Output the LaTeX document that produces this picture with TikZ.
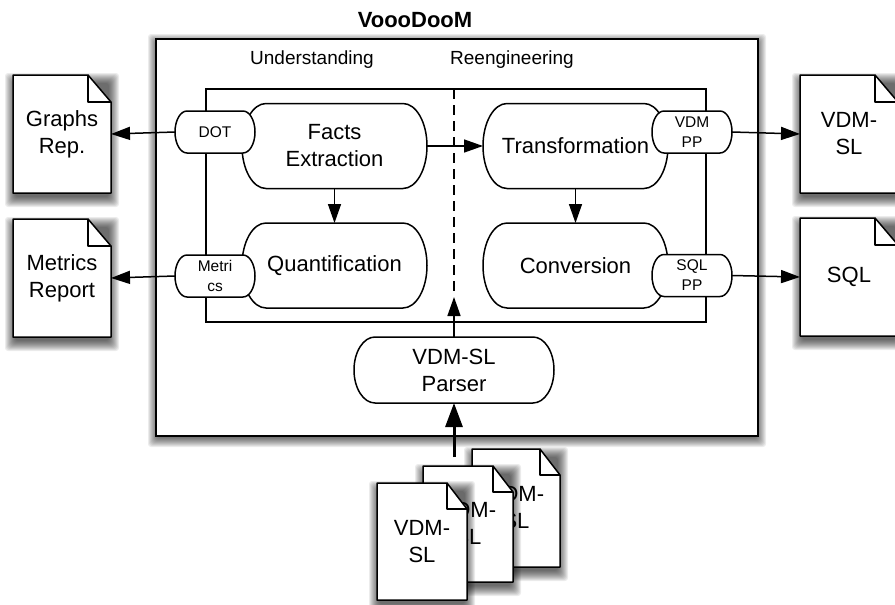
\documentclass[tikz,border=0pt]{standalone}
\usepackage{fontspec}
\setmainfont{Liberation Sans}
\usetikzlibrary{arrows.meta,calc}

% soft drop shadow under a rectangular node: stacked translucent layers
\newcommand\dropshade[2][6]{%
  \foreach \k in {0,...,10}{%
    \fill[black, opacity=0.075, rounded corners=3pt]
      ([shift={({2-\k},{2-\k-#1})}]#2.south west) rectangle
      ([shift={({\k-2},{\k-2-#1})}]#2.north east);}}

% outline of a capsule: straight top/bottom, elliptical ends
\newcommand\capsuleline[4][]{%
  \path[draw, lw, #1] ([xshift=#3]#2.north west) -- ([xshift=-#3]#2.north east)
    arc[start angle=90, end angle=-90, x radius=#3, y radius=#4]
    -- ([xshift=#3]#2.south west)
    arc[start angle=270, end angle=90, x radius=#3, y radius=#4] -- cycle;}

% outline of a page with a folded top-right corner
\newcommand\pageline[3]{%
  \dropshade{#1}
  \path[draw, lw, fill=white, line join=round]
    (#1.south west) -- (#1.north west) -- ([xshift=-#2]#1.north east)
    -- ([yshift=-#3]#1.north east) -- (#1.south east) -- cycle;
  \draw[lw, line join=round] ([xshift=-#2]#1.north east) |- ([yshift=-#3]#1.north east);}

\tikzset{
  lw/.style={line width=1.5pt},
  box/.style 2 args={rectangle, draw=none, inner sep=0pt, outer sep=0pt,
    minimum width=#1, minimum height=#2},
  bigtext/.style={font=\fontsize{22}{27}\selectfont, align=center, inner sep=0pt},
  sectiontext/.style={font=\fontsize{19}{23}\selectfont, inner sep=0pt},
  porttext/.style={font=\fontsize{15.5}{20}\selectfont, align=center, inner sep=0pt},
  flow/.style={lw, -{Triangle[length=19pt,width=13pt,fill=black]}},
  heavyflow/.style={line width=3pt, -{Triangle[length=24pt,width=17pt,fill=black]}},
}

\begin{document}
\begin{tikzpicture}[x=1pt, y=1pt]
\useasboundingbox (0,0) rectangle (895,-605);

% tool frame
\node[box={602}{397}] (tool) at (457,-237.5) {};
\dropshade[3]{tool}
\path[draw, line width=2pt, fill=white] (tool.south west) rectangle (tool.north east);
\node[font=\bfseries\fontsize{22}{26}\selectfont, inner sep=0pt] (title) at (415,-20) {VoooDooM};
\node[sectiontext] (und) at (312,-60) {Understanding};
\node[sectiontext] (reeng) at (512,-60) {Reengineering};

% core box and phase separator
\node[box={500}{233}] (core) at (456,-205.5) {};
\draw[lw] (core.south west) rectangle (core.north east);
\coordinate (dtop) at (454,-89);
\coordinate (ptip) at (454,-297);
\draw[lw, dash pattern=on 10pt off 6pt] (dtop) -- (ptip);

% main components
\node[box={185}{85}] (facts) at (334.5,-146) {};
\capsuleline{facts}{24pt}{42.5pt}
\node[bigtext] (factsT) at (facts.center) {Facts\\Extraction};

\node[box={185}{85}] (quant) at (334.5,-265.5) {};
\capsuleline{quant}{24pt}{42.5pt}
\node[bigtext] (quantT) at (quant.center) {Quantification};

\node[box={185}{85}] (trans) at (575.5,-146) {};
\capsuleline{trans}{24pt}{42.5pt}
\node[bigtext] (transT) at (trans.center) {Transformation};

\node[box={185}{85}] (conv) at (575.5,-265.5) {};
\capsuleline{conv}{24pt}{42.5pt}
\node[bigtext] (convT) at (conv.center) {Conversion};

% output ports
\node[box={80}{42}] (dot) at (215,-132) {};
\capsuleline[fill=white]{dot}{12pt}{21pt}
\node[porttext] (dotT) at (dot.center) {DOT};

\node[box={80}{42}] (metr) at (215,-276) {};
\capsuleline[fill=white]{metr}{12pt}{21pt}
\node[porttext] (metrT) at (metr.center) {Metri\\cs};

\node[box={80}{42}] (vdmpp) at (692,-132) {};
\capsuleline[fill=white]{vdmpp}{12pt}{21pt}
\node[porttext] (vdmppT) at (vdmpp.center) {VDM\\PP};

\node[box={80}{42}] (sqlpp) at (692,-275.5) {};
\capsuleline[fill=white]{sqlpp}{12pt}{21pt}
\node[porttext] (sqlppT) at (sqlpp.center) {SQL\\PP};

% parser
\node[box={200}{66}] (parser) at (454,-370) {};
\capsuleline{parser}{21pt}{33pt}
\node[bigtext] (parserT) at (parser.center) {VDM-SL\\Parser};

% generated documents
\node[box={98}{118}] (graphs) at (62,-134) {};
\pageline{graphs}{23pt}{27pt}
\node[bigtext] (graphsT) at (graphs.center) {Graphs\\Rep.};

\node[box={98}{118}] (report) at (62,-278) {};
\pageline{report}{23pt}{27pt}
\node[bigtext] (reportT) at (report.center) {Metrics\\Report};

\node[box={98}{118}] (vdmsl) at (849,-134) {};
\pageline{vdmsl}{23pt}{27pt}
\node[bigtext] (vdmslT) at (vdmsl.center) {VDM-\\SL};

\node[box={98}{118}] (sql) at (849,-277) {};
\pageline{sql}{23pt}{27pt}
\node[bigtext] (sqlT) at (sql.center) {SQL};

% input specification files
\node[box={88}{118}] (specA) at (516,-508) {};
\pageline{specA}{20pt}{26pt}
\node[bigtext] (specAT) at (specA.center) {VDM-\\SL};

\node[box={90}{116}] (specB) at (468,-524) {};
\pageline{specB}{20pt}{26pt}
\node[bigtext] (specBT) at (specB.center) {VDM-\\SL};

\node[box={90}{117}] (specC) at (422,-541.5) {};
\pageline{specC}{20pt}{26pt}
\node[bigtext] (specCT) at (specC.center) {VDM-\\SL};

% connectors
\draw[flow] (dot.west) -- (graphs.east);
\draw[flow] (metr.west) -- (report.east);
\draw[flow] (vdmpp.east) -- (vdmsl.west);
\draw[flow] (sqlpp.east) -- (sql.west);
\draw[flow] (facts.south) -- (quant.north);
\draw[flow] (facts.east) -- (trans.west);
\draw[flow] (trans.south) -- (conv.north);
\draw[flow] (parser.north) -- (ptip);
\coordinate (stacktop) at (454,-457);
\draw[heavyflow] (stacktop) -- (parser.south);
\end{tikzpicture}
\end{document}
